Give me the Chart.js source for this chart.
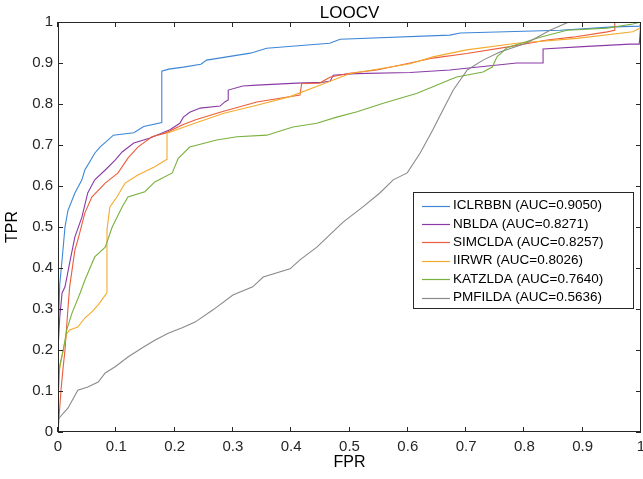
<!DOCTYPE html>
<html>
<head>
<meta charset="utf-8">
<script src="https://cdn.jsdelivr.net/npm/chart.js@4.4.1/dist/chart.umd.min.js"></script>
<style>
  html, body { margin: 0; padding: 0; background: #fff; }
  #c { display: block; }
</style>
</head>
<body>
<canvas id="c" width="643" height="479"></canvas>
<script>
// ---------------- data ----------------
const chartTitle = 'LOOCV';
const xAxisTitle = 'FPR';
const yAxisTitle = 'TPR';
const tickValues = [0, 0.1, 0.2, 0.3, 0.4, 0.5, 0.6, 0.7, 0.8, 0.9, 1];
const tickLabels = ['0', '0.1', '0.2', '0.3', '0.4', '0.5', '0.6', '0.7', '0.8', '0.9', '1'];

const seriesNames = [
  'ICLRBBN (AUC=0.9050)',
  'NBLDA (AUC=0.8271)',
  'SIMCLDA (AUC=0.8257)',
  'IIRWR (AUC=0.8026)',
  'KATZLDA (AUC=0.7640)',
  'PMFILDA (AUC=0.5636)'
];
const seriesColors = ['#3d86d6', '#8a3aa6', '#ea5d3c', '#f5aa2c', '#79b13f', '#8a8a8a'];

const iclrbbnFPR = [0, 0, 0.001, 0.003, 0.007, 0.012, 0.017, 0.029, 0.041, 0.046, 0.056, 0.063, 0.072, 0.095, 0.13, 0.147, 0.178, 0.178, 0.19, 0.215, 0.245, 0.255, 0.33, 0.358, 0.466, 0.484, 0.672, 0.69, 0.861, 0.952, 0.998, 1];
const iclrbbnTPR = [0, 0.13, 0.25, 0.36, 0.42, 0.5, 0.54, 0.583, 0.615, 0.639, 0.663, 0.68, 0.695, 0.724, 0.73, 0.745, 0.755, 0.88, 0.885, 0.89, 0.897, 0.907, 0.924, 0.936, 0.948, 0.958, 0.968, 0.973, 0.98, 0.988, 0.99, 1];

const nbldaFPR = [0, 0, 0.003, 0.007, 0.012, 0.021, 0.029, 0.041, 0.051, 0.063, 0.081, 0.098, 0.11, 0.13, 0.158, 0.192, 0.209, 0.215, 0.226, 0.244, 0.278, 0.286, 0.292, 0.292, 0.317, 0.341, 0.41, 0.455, 0.467, 0.472, 0.51, 0.604, 0.672, 0.787, 0.832, 0.832, 0.9, 0.981, 0.997, 1];
const nbldaTPR = [0, 0.2, 0.28, 0.339, 0.354, 0.42, 0.476, 0.524, 0.583, 0.615, 0.639, 0.663, 0.683, 0.705, 0.717, 0.737, 0.753, 0.768, 0.78, 0.79, 0.795, 0.805, 0.81, 0.834, 0.844, 0.846, 0.851, 0.853, 0.856, 0.87, 0.874, 0.877, 0.883, 0.9, 0.9, 0.934, 0.94, 0.946, 0.946, 1];

const simcldaFPR = [0, 0.005, 0.009, 0.012, 0.017, 0.02, 0.029, 0.034, 0.046, 0.058, 0.081, 0.103, 0.12, 0.137, 0.161, 0.184, 0.213, 0.235, 0.278, 0.341, 0.415, 0.418, 0.449, 0.467, 0.5, 0.547, 0.604, 0.643, 0.701, 0.775, 0.839, 0.883, 0.942, 0.955, 0.955, 1];
const simcldaTPR = [0, 0.1, 0.16, 0.2, 0.3, 0.354, 0.444, 0.468, 0.534, 0.573, 0.607, 0.632, 0.668, 0.695, 0.72, 0.729, 0.749, 0.761, 0.78, 0.805, 0.822, 0.85, 0.851, 0.866, 0.875, 0.883, 0.9, 0.912, 0.923, 0.94, 0.956, 0.963, 0.976, 0.98, 1, 1];

const iirwrFPR = [0, 0, 0.009, 0.015, 0.02, 0.034, 0.046, 0.058, 0.069, 0.081, 0.084, 0.084, 0.089, 0.101, 0.115, 0.137, 0.166, 0.184, 0.187, 0.187, 0.226, 0.283, 0.341, 0.398, 0.449, 0.5, 0.604, 0.643, 0.701, 0.787, 0.89, 0.986, 0.998, 1];
const iirwrTPR = [0, 0.134, 0.2, 0.24, 0.249, 0.256, 0.278, 0.293, 0.31, 0.334, 0.34, 0.493, 0.549, 0.573, 0.607, 0.627, 0.647, 0.663, 0.665, 0.729, 0.749, 0.777, 0.797, 0.818, 0.846, 0.874, 0.898, 0.915, 0.932, 0.948, 0.96, 0.976, 0.985, 1];

const katzldaFPR = [0, 0, 0.003, 0.009, 0.015, 0.024, 0.038, 0.046, 0.063, 0.081, 0.093, 0.11, 0.12, 0.149, 0.166, 0.196, 0.206, 0.226, 0.272, 0.307, 0.358, 0.403, 0.444, 0.478, 0.513, 0.558, 0.616, 0.643, 0.672, 0.684, 0.729, 0.745, 0.753, 0.77, 0.827, 0.873, 0.942, 0.986, 1];
const katzldaTPR = [0, 0.07, 0.163, 0.2, 0.249, 0.29, 0.339, 0.37, 0.427, 0.451, 0.5, 0.549, 0.573, 0.586, 0.61, 0.632, 0.667, 0.695, 0.712, 0.72, 0.724, 0.744, 0.753, 0.768, 0.781, 0.802, 0.826, 0.842, 0.859, 0.866, 0.878, 0.89, 0.915, 0.937, 0.963, 0.98, 0.985, 0.995, 1];

const pmfildaFPR = [0, 0, 0.003, 0.017, 0.034, 0.051, 0.069, 0.081, 0.098, 0.12, 0.144, 0.166, 0.189, 0.213, 0.235, 0.266, 0.3, 0.334, 0.352, 0.398, 0.415, 0.444, 0.489, 0.523, 0.552, 0.575, 0.599, 0.621, 0.643, 0.66, 0.678, 0.702, 0.729, 0.758, 0.804, 0.844, 0.873, 0.88, 1];
const pmfildaTPR = [0, 0.03, 0.036, 0.058, 0.102, 0.11, 0.122, 0.144, 0.159, 0.183, 0.205, 0.224, 0.241, 0.254, 0.268, 0.298, 0.334, 0.354, 0.378, 0.398, 0.42, 0.451, 0.512, 0.549, 0.583, 0.615, 0.632, 0.68, 0.737, 0.785, 0.834, 0.883, 0.907, 0.927, 0.949, 0.98, 0.998, 1, 1];

const seriesFPR = [iclrbbnFPR, nbldaFPR, simcldaFPR, iirwrFPR, katzldaFPR, pmfildaFPR];
const seriesTPR = [iclrbbnTPR, nbldaTPR, simcldaTPR, iirwrTPR, katzldaTPR, pmfildaTPR];

// ---------------- chart ----------------
const FONT = 'Arial, "Liberation Sans", Helvetica, sans-serif';
const AXIS_COLOR = '#262626';

const datasets = seriesNames.map((name, i) => ({
  label: name,
  data: seriesFPR[i].map((x, k) => ({ x: x, y: seriesTPR[i][k] })),
  borderColor: seriesColors[i],
  backgroundColor: seriesColors[i],
  borderWidth: 1.1,
  pointRadius: 0,
  tension: 0,
  fill: false,
  showLine: true,
  order: seriesNames.length - i
}));

const matlabAxes = {
  id: 'matlabAxes',
  afterDraw(chart) {
    const { ctx, chartArea: a, scales } = chart;
    ctx.save();
    ctx.strokeStyle = AXIS_COLOR;
    ctx.lineWidth = 1;
    const tl = 5;
    ctx.beginPath();
    tickValues.forEach(v => {
      const px = Math.round(scales.x.getPixelForValue(v)) - 0.5;
      ctx.moveTo(px, a.bottom); ctx.lineTo(px, a.bottom - tl);
      ctx.moveTo(px, a.top); ctx.lineTo(px, a.top + tl);
      const py = Math.round(scales.y.getPixelForValue(v)) + 0.5;
      ctx.moveTo(a.left, py); ctx.lineTo(a.left + tl, py);
      ctx.moveTo(a.right, py); ctx.lineTo(a.right - tl, py);
    });
    ctx.stroke();
    ctx.strokeRect(Math.round(a.left) + 0.5, Math.round(a.top) + 0.5,
                   Math.round(a.right - a.left) - 1, Math.round(a.bottom - a.top) - 1);

    ctx.fillStyle = '#000';
    ctx.font = '17px ' + FONT;
    ctx.textAlign = 'center';
    ctx.textBaseline = 'middle';
    ctx.fillText(chartTitle, (a.left + a.right) / 2, 13);

    const lx = 413, ly = 192, lw = 220, lh = 116;
    ctx.fillStyle = '#fff';
    ctx.fillRect(lx, ly, lw, lh);
    ctx.strokeStyle = AXIS_COLOR;
    ctx.lineWidth = 1;
    ctx.strokeRect(lx + 0.5, ly + 0.5, lw, lh);
    ctx.font = '13.5px ' + FONT;
    ctx.textAlign = 'left';
    ctx.textBaseline = 'middle';
    seriesNames.forEach((name, i) => {
      const yy = ly + 13.5 + i * 18.4;
      ctx.strokeStyle = seriesColors[i];
      ctx.lineWidth = 1.2;
      ctx.beginPath();
      ctx.moveTo(lx + 9, Math.round(yy) + 0.5);
      ctx.lineTo(lx + 37, Math.round(yy) + 0.5);
      ctx.stroke();
      ctx.fillStyle = '#000';
      ctx.fillText(name, lx + 40, yy);
    });
    ctx.restore();
  }
};

new Chart(document.getElementById('c'), {
  type: 'line',
  data: { datasets },
  options: {
    responsive: false,
    animation: false,
    layout: { padding: { top: 22, right: 2, left: 0, bottom: 0 } },
    plugins: { legend: { display: false }, title: { display: false }, tooltip: { enabled: false } },
    scales: {
      x: {
        type: 'linear', min: 0, max: 1,
        grid: { display: false, drawTicks: false },
        border: { display: false },
        afterBuildTicks: s => { s.ticks = tickValues.map(v => ({ value: v })); },
        afterFit: s => { s.height = 47; s.paddingLeft = 0; s.paddingRight = 0; },
        ticks: {
          autoSkip: false, maxRotation: 0, padding: 6, color: '#262626',
          font: { family: FONT, size: 15 },
          callback: (v, i) => tickLabels[i]
        },
        title: {
          display: true, text: xAxisTitle, color: '#000',
          font: { family: FONT, size: 16 }, padding: { top: 0, bottom: 7 }
        }
      },
      y: {
        type: 'linear', min: 0, max: 1,
        grid: { display: false, drawTicks: false },
        border: { display: false },
        afterBuildTicks: s => { s.ticks = tickValues.map(v => ({ value: v })); },
        afterFit: s => { s.width = 58; s.paddingTop = 0; s.paddingBottom = 0; },
        ticks: {
          autoSkip: false, padding: 5, color: '#262626',
          font: { family: FONT, size: 15 },
          callback: (v, i) => tickLabels[i]
        },
        title: {
          display: true, text: yAxisTitle, color: '#000',
          font: { family: FONT, size: 16 }, padding: { top: 3, bottom: 0 }
        }
      }
    }
  },
  plugins: [matlabAxes]
});
</script>
</body>
</html>
